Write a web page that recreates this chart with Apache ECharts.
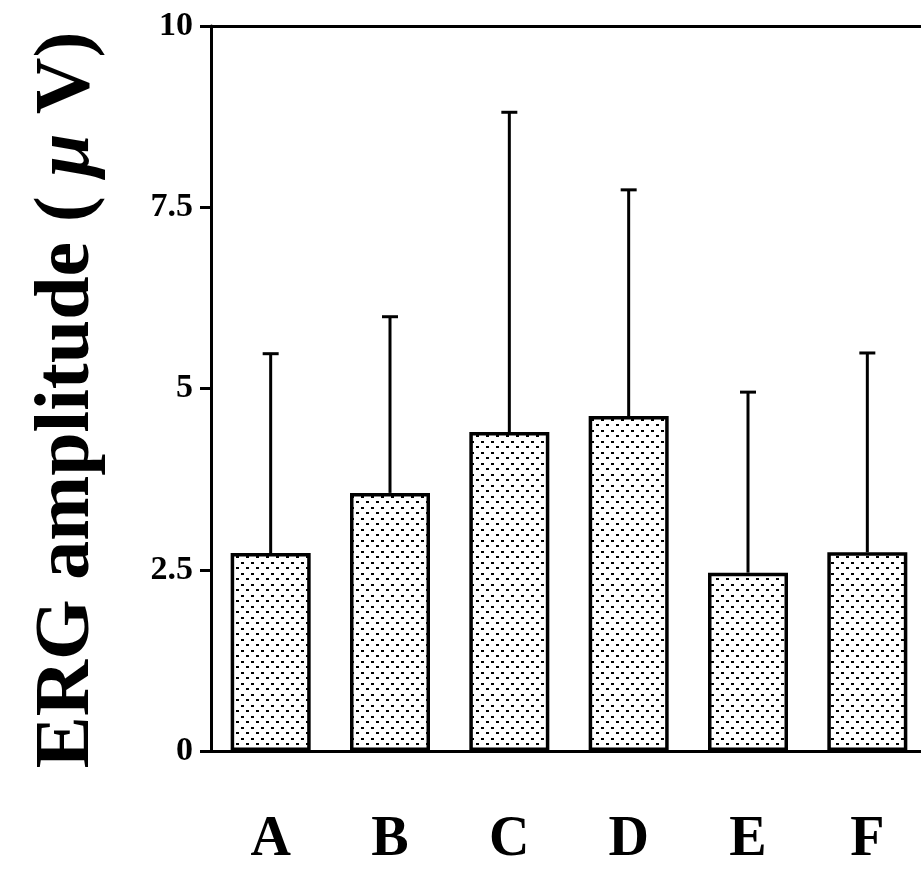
<!DOCTYPE html>
<html>
<head>
<meta charset="utf-8">
<script src="https://cdn.jsdelivr.net/npm/echarts@6/dist/echarts.min.js"></script>
<style>
html,body{margin:0;padding:0;background:#fff;}
#chart{width:921px;height:881px;}
</style>
</head>
<body>
<div id="chart"></div>
<script>
const categories = ['A', 'B', 'C', 'D', 'E', 'F'];
const means = [2.73, 3.56, 4.40, 4.62, 2.46, 2.74];
const sds = [2.75, 2.43, 4.41, 3.12, 2.49, 2.75];
const yTicks = [0, 2.5, 5, 7.5, 10];

const FONT = '"Liberation Serif", "DejaVu Serif", serif';

// dotted fill pattern
const pat = document.createElement('canvas');
pat.width = 10; pat.height = 11;
const pc = pat.getContext('2d');
pc.fillStyle = '#fff';
pc.fillRect(0, 0, 10, 11);
pc.fillStyle = '#000';
pc.fillRect(1, 1, 3, 2);
pc.fillRect(6, 6, 3, 2);

const chart = echarts.init(document.getElementById('chart'), null, {renderer: 'canvas'});

const errData = categories.map((c, i) => [i, means[i], means[i] + sds[i]]);

chart.setOption({
  animation: false,
  backgroundColor: '#fff',
  grid: {left: 211, top: 26, width: 716, height: 725, containLabel: false, outerBoundsMode: 'none'},
  xAxis: [{
    type: 'category',
    data: categories,
    axisLine: {lineStyle: {color: '#000', width: 3}},
    axisTick: {show: false},
    axisLabel: {
      color: '#000', fontFamily: FONT, fontWeight: 'bold', fontSize: 56, margin: 62
    }
  }, {
    type: 'category',
    position: 'top',
    data: categories,
    axisLine: {lineStyle: {color: '#000', width: 3}},
    axisTick: {show: false},
    axisLabel: {show: false}
  }],
  yAxis: {
    type: 'value',
    min: 0, max: 10, interval: 2.5,
    axisLine: {show: true, lineStyle: {color: '#000', width: 3}},
    axisTick: {show: true, length: 11, lineStyle: {color: '#000', width: 3}},
    splitLine: {show: false},
    axisLabel: {
      color: '#000', fontFamily: FONT, fontWeight: 'bold', fontSize: 34, margin: 18,
      formatter: v => (yTicks.indexOf(v) >= 0 ? String(v) : '')
    }
  },
  graphic: [{
    type: 'text',
    x: 68, y: 400,
    rotation: Math.PI / 2,
    style: {
      text: '{n|ERG amplitude ( }{m|μ}{n| V)}',
      rich: {
        n: {fontFamily: FONT, fontWeight: 'bold', fontSize: 78, fill: '#000'},
        m: {fontFamily: FONT, fontWeight: 'bold', fontStyle: 'italic', fontSize: 78, fill: '#000'}
      },
      align: 'center',
      verticalAlign: 'middle'
    }
  }],
  series: [{
    type: 'bar',
    data: means,
    barWidth: 80,
    itemStyle: {
      color: {image: pat, repeat: 'repeat'},
      borderColor: '#000',
      borderWidth: 3.5
    },
    z: 2
  }, {
    type: 'custom',
    data: errData,
    z: 3,
    renderItem: function (params, api) {
      const x = api.value(0);
      const base = api.coord([x, api.value(1)]);
      const top = api.coord([x, api.value(2)]);
      const hw = 8;
      return {
        type: 'group',
        children: [{
          type: 'line',
          shape: {x1: base[0], y1: base[1], x2: top[0], y2: top[1]},
          style: {stroke: '#000', lineWidth: 3}
        }, {
          type: 'line',
          shape: {x1: top[0] - hw, y1: top[1], x2: top[0] + hw, y2: top[1]},
          style: {stroke: '#000', lineWidth: 3}
        }]
      };
    }
  }]
});
</script>
</body>
</html>
